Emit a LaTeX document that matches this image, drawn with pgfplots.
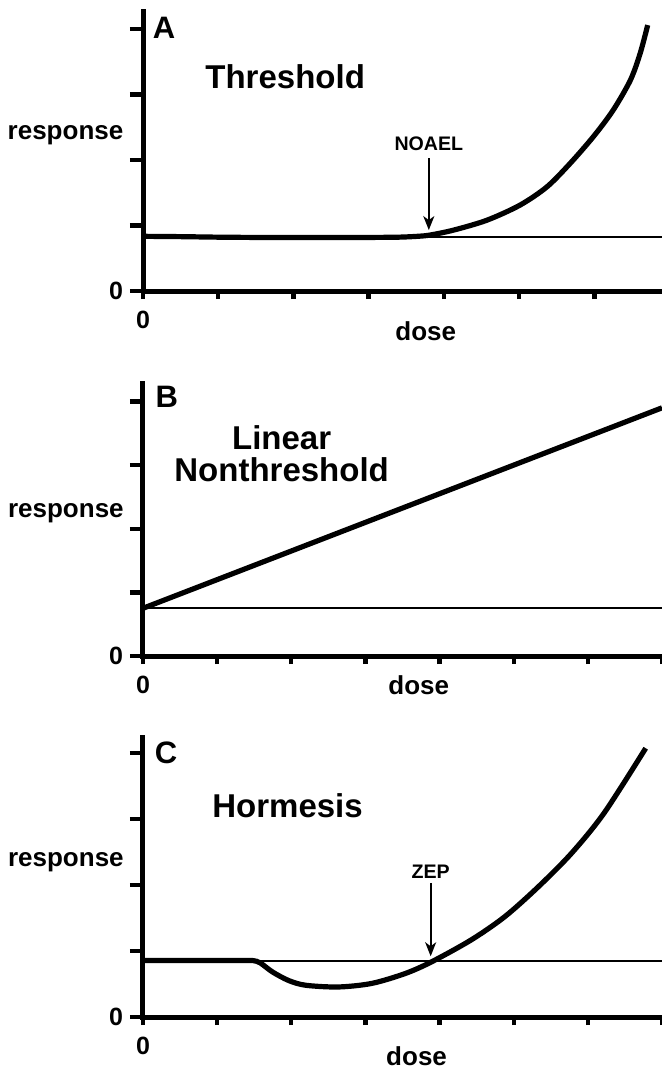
\documentclass[border=0pt]{standalone}
\usepackage{fontspec}
\setmainfont{Liberation Sans}
\usepackage{pgfplots}
\pgfplotsset{compat=1.18}
\usetikzlibrary{arrows.meta}

\pgfplotstableread{
x y
0 0.835
0.5 0.83
1 0.822
1.5 0.818
2 0.818
2.5 0.818
3 0.818
3.4 0.822
3.65 0.835
3.82 0.855
4.13 0.93
4.57 1.08
5.01 1.31
5.37 1.59
5.68 1.95
5.99 2.36
6.25 2.76
6.48 3.22
6.61 3.63
6.71 4.06
}\curveA

\pgfplotstableread{
x y
0 0.75
7 3.90
}\curveB

\pgfplotstableread{
x y
0 0.855
0.5 0.855
1 0.855
1.3 0.855
1.48 0.855
1.58 0.82
1.75 0.68
1.97 0.55
2.2 0.48
2.64 0.455
3.09 0.51
3.54 0.66
3.9 0.84
4.43 1.17
4.88 1.52
5.33 1.97
5.78 2.48
6.22 3.09
6.78 4.07
}\curveC

\pgfplotsset{
  dr/.style={
    scale only axis,
    width=259.5pt,
    xmin=0, ymin=0,
    axis lines*=left,
    axis line style={line width=2.5pt, line cap=rect},
    tick align=outside,
    major tick length=6.5pt,
    tick style={line width=2.2pt, black},
    xtick style={/pgfplots/major tick length=4pt},
    xtick={0,1,2,3,4,5,6,7},
    ytick={0,1,2,3,4},
    xticklabels={0,{},{},{},{},{},{},{}},
    yticklabels={0,{},{},{},{}},
    tick label style={font=\fontsize{12.5}{12.5}\selectfont\bfseries},
    /pgf/number format/assume math mode=true,
    clip=false,
    anchor=south west,
  },
}
\tikzset{
  lab/.style={font=\fontsize{13}{13}\selectfont\bfseries, anchor=base},
  big/.style={font=\fontsize{16.5}{16.5}\selectfont\bfseries},
  ltr/.style={font=\fontsize{15.5}{15.5}\selectfont\bfseries},
  sml/.style={font=\fontsize{9.8}{9.8}\selectfont\bfseries},
}

\begin{document}
\begin{tikzpicture}
\useasboundingbox (0,0) rectangle (331pt,-535pt);

% Panel A
\begin{axis}[dr, at={(71.5pt,-145.5pt)}, height=139.5pt, xmax=6.9, ymax=4.26]
\addplot[line width=1pt] coordinates {(0,0.824) (6.9,0.824)};
\addplot[line width=2.6pt, smooth, tension=0.5] table[x=x,y=y] {\curveA};
\draw[line width=0.9pt, -{Stealth[length=7pt,width=5.5pt,inset=2pt]}] (axis cs:3.80,2.03) -- (axis cs:3.80,0.93);
\node[sml] at (axis cs:3.80,2.25) {NOAEL};
\node[big] at (axis cs:1.89,3.27) {Threshold};
\node[ltr] at (axis cs:0.28,4.02) {A};
\node[lab] at (axis cs:-1.03,2.31) {response};
\node[lab] at (axis cs:3.76,-0.75) {dose};
\end{axis}

% Panel B
\begin{axis}[dr, at={(71.5pt,-328pt)}, height=136.5pt, xmax=7, ymax=4.29]
\addplot[line width=1pt] coordinates {(0,0.75) (7,0.75)};
\addplot[line width=2.6pt] table[x=x,y=y] {\curveB};
\node[big, align=center] at (axis cs:1.87,3.18) {Linear\\[-0.5pt]Nonthreshold};
\node[ltr] at (axis cs:0.32,4.08) {B};
\node[lab] at (axis cs:-1.04,2.17) {response};
\node[lab] at (axis cs:3.72,-0.61) {dose};
\end{axis}

% Panel C
\begin{axis}[dr, at={(71.5pt,-508.5pt)}, height=140pt, xmax=7, ymax=4.24]
\addplot[line width=1pt] coordinates {(0,0.855) (7,0.855)};
\addplot[line width=2.6pt, smooth, tension=0.5] table[x=x,y=y] {\curveC};
\draw[line width=0.9pt, -{Stealth[length=7pt,width=5.5pt,inset=2pt]}] (axis cs:3.88,2.03) -- (axis cs:3.88,0.92);
\node[sml] at (axis cs:3.88,2.2) {ZEP};
\node[big] at (axis cs:1.95,3.2) {Hormesis};
\node[ltr] at (axis cs:0.31,4.0) {C};
\node[lab] at (axis cs:-1.04,2.28) {response};
\node[lab] at (axis cs:3.69,-0.73) {dose};
\end{axis}
\end{tikzpicture}
\end{document}
